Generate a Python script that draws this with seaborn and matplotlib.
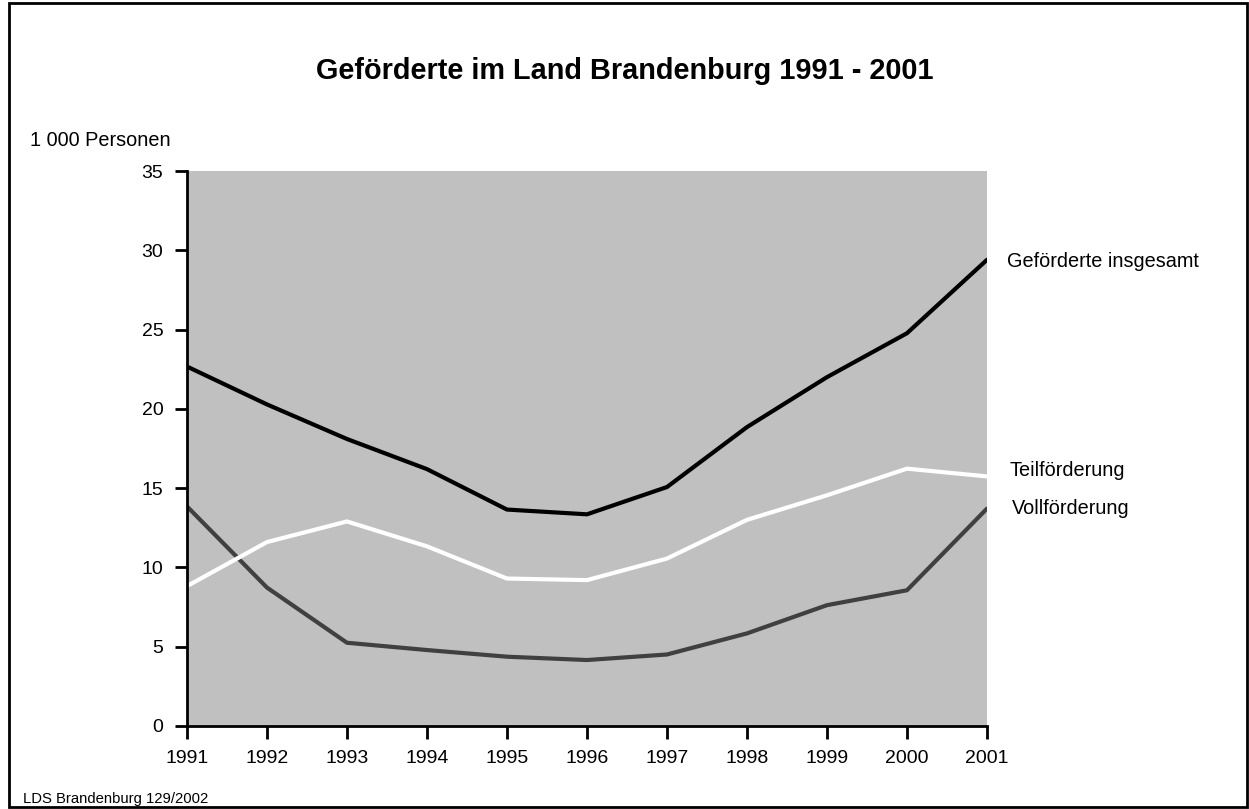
import pandas as pd
import matplotlib
matplotlib.use("Agg")
import matplotlib.pyplot as plt
import seaborn as sns
from matplotlib.patches import Rectangle

sns.set_style("ticks")
plt.rcParams['font.family'] = ['Liberation Sans', 'DejaVu Sans']
plt.rcParams['text.color'] = 'black'
plt.rcParams['xtick.color'] = 'black'
plt.rcParams['ytick.color'] = 'black'
plt.rcParams['axes.edgecolor'] = 'black'

years = [1991, 1992, 1993, 1994, 1995, 1996, 1997, 1998, 1999, 2000, 2001]
insgesamt = [22.67, 20.28, 18.1, 16.2, 13.65, 13.35, 15.07, 18.85, 22.0, 24.77, 29.4]
teil = [8.82, 11.6, 12.9, 11.33, 9.3, 9.2, 10.56, 13.0, 14.55, 16.23, 15.74]
voll = [13.85, 8.73, 5.25, 4.79, 4.37, 4.16, 4.51, 5.84, 7.62, 8.56, 13.71]

series_names = ['Geförderte insgesamt', 'Teilförderung', 'Vollförderung']
colors = {'Geförderte insgesamt': '#000000', 'Teilförderung': '#ffffff', 'Vollförderung': '#404040'}

df = pd.DataFrame({
    'Jahr': years * 3,
    'Wert': insgesamt + teil + voll,
    'Reihe': [s for s in series_names for _ in years],
})

fig = plt.figure(figsize=(12.49, 8.09), dpi=100)
ax = fig.add_axes([0.1497, 0.1026, 0.6405, 0.686])
ax.set_facecolor('#c0c0c0')

sns.lineplot(data=df, x='Jahr', y='Wert', hue='Reihe', palette=colors,
             hue_order=['Vollförderung', 'Teilförderung', 'Geförderte insgesamt'],
             linewidth=3, legend=False, ax=ax)

ax.set_xlim(1991, 2001)
ax.set_ylim(0, 35)
ax.set_xticks(years)
ax.set_yticks(range(0, 36, 5))
ax.tick_params(axis='both', labelsize=14, length=9, width=2, direction='out', color='black')
ax.tick_params(axis='y', pad=8)
ax.tick_params(axis='x', pad=8)
for side in ['top', 'right']:
    ax.spines[side].set_visible(False)
for side in ['left', 'bottom']:
    ax.spines[side].set_linewidth(2)
ax.set_xlabel('')
ax.set_ylabel('')

# labels at line ends
ax.text(1.025, insgesamt[-1] - 0.1, 'Geförderte insgesamt', transform=ax.get_yaxis_transform(),
        va='center', ha='left', fontsize=14.3)
ax.text(1.028, teil[-1] + 0.36, 'Teilförderung', transform=ax.get_yaxis_transform(),
        va='center', ha='left', fontsize=14.3)
ax.text(1.031, voll[-1], 'Vollförderung', transform=ax.get_yaxis_transform(),
        va='center', ha='left', fontsize=14.3)

fig.text(0.5, 1 - 71 / 809, 'Geförderte im Land Brandenburg 1991 - 2001',
         ha='center', va='center', fontsize=20.8, fontweight='bold')
fig.text(30 / 1249, 1 - 140 / 809, '1 000 Personen', ha='left', va='center', fontsize=14.3)
fig.text(23 / 1249, 1 - 799 / 809, 'LDS Brandenburg 129/2002', ha='left', va='center', fontsize=10.75)

fig.patches.append(Rectangle((9 / 1249, 2 / 809), 1238 / 1249, 804 / 809,
                             transform=fig.transFigure, fill=False,
                             edgecolor='black', linewidth=2))

fig.savefig('out.png', dpi=100)
